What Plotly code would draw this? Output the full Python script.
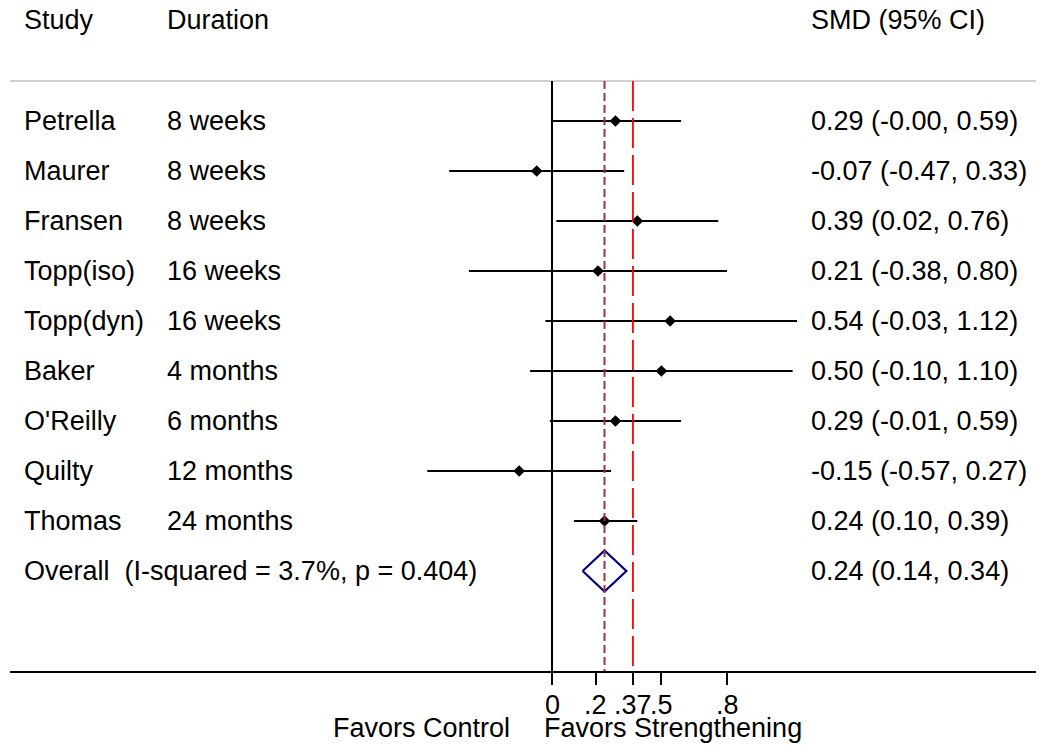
import plotly.graph_objects as go

# ---- data ----
studies = ["Petrella", "Maurer", "Fransen", "Topp(iso)", "Topp(dyn)", "Baker",
           "O'Reilly", "Quilty", "Thomas"]
durations = ["8 weeks", "8 weeks", "8 weeks", "16 weeks", "16 weeks", "4 months",
             "6 months", "12 months", "24 months"]
smd = [0.29, -0.07, 0.39, 0.21, 0.54, 0.50, 0.29, -0.15, 0.24]
ci_low = [-0.00, -0.47, 0.02, -0.38, -0.03, -0.10, -0.01, -0.57, 0.10]
ci_high = [0.59, 0.33, 0.76, 0.80, 1.12, 1.10, 0.59, 0.27, 0.39]
smd_labels = ["0.29 (-0.00, 0.59)", "-0.07 (-0.47, 0.33)", "0.39 (0.02, 0.76)",
              "0.21 (-0.38, 0.80)", "0.54 (-0.03, 1.12)", "0.50 (-0.10, 1.10)",
              "0.29 (-0.01, 0.59)", "-0.15 (-0.57, 0.27)", "0.24 (0.10, 0.39)"]
overall_label = "Overall  (I-squared = 3.7%, p = 0.404)"
overall_est = 0.24
overall_low = 0.14
overall_high = 0.34
overall_text = "0.24 (0.14, 0.34)"
ref_line = 0.37
headers = ["Study", "Duration", "SMD (95% CI)"]
tick_vals = [0, 0.2, 0.37, 0.5, 0.8]
tick_text = ["0", ".2", ".37", ".5", ".8"]
favors_left = "Favors Control"
favors_right = "Favors Strengthening"

# ---- layout helpers ----
FONT = "Liberation Sans, Arial, sans-serif"
FS = 27
X0PX, SCALE = 552.0, 218.75  # page pixel of x=0, pixels per unit (text placement)
OFF = 8  # default body margin of the html page


def px2x(p):
    return (p - X0PX) / SCALE


rows = list(range(len(studies)))
overall_row = len(studies)
header_row = -2.03
axis_row = 11
line_row = -0.8
top_row = (OFF - 121) / 50.0

W, H = 1044 - OFF, 746 - OFF
plot_h = (671 - OFF)  # plot area height in figure pixels (top margin 0)

fig = go.Figure()

# CI lines
cx, cy = [], []
for r, lo, hi in zip(rows, ci_low, ci_high):
    cx += [lo, hi, None]
    cy += [r, r, None]
fig.add_trace(go.Scatter(x=cx, y=cy, mode="lines",
                         line=dict(color="black", width=2.2), hoverinfo="skip"))
# point estimates
fig.add_trace(go.Scatter(x=smd, y=rows, mode="markers",
                         marker=dict(symbol="diamond", size=9, color="black"),
                         hoverinfo="skip"))
# overall diamond
h = 0.41
fig.add_trace(go.Scatter(
    x=[overall_low, overall_est, overall_high, overall_est, overall_low],
    y=[overall_row, overall_row - h, overall_row, overall_row + h, overall_row],
    mode="lines", line=dict(color="#000080", width=2.2), hoverinfo="skip"))

shapes = [
    dict(type="line", xref="paper", x0=0, x1=1, yref="y", y0=line_row, y1=line_row,
         line=dict(color="#c0c0c0", width=1.5)),
    dict(type="line", xref="x", x0=0, x1=0, yref="y", y0=line_row, y1=axis_row,
         line=dict(color="black", width=2)),
    dict(type="line", xref="x", x0=overall_est, x1=overall_est, yref="y",
         y0=line_row, y1=axis_row,
         line=dict(color="#a03040", width=2, dash="8px,4px")),
    dict(type="line", xref="x", x0=ref_line, x1=ref_line, yref="y",
         y0=line_row, y1=axis_row,
         line=dict(color="#ff0000", width=1.8, dash="30px,7px")),
]

ann = []


def txt(x, y, s, anchor="left"):
    ann.append(dict(x=x, y=y, xref="x", yref="y", text=s, showarrow=False,
                    xanchor=anchor, yanchor="middle", borderpad=0,
                    font=dict(family=FONT, size=FS, color="black")))


txt(px2x(23), header_row, headers[0])
txt(px2x(166), header_row, headers[1])
txt(px2x(810), header_row, headers[2])
for r, s, d, lab in zip(rows, studies, durations, smd_labels):
    txt(px2x(23), r, s)
    txt(px2x(166), r, d)
    txt(px2x(810), r, lab)
txt(px2x(23), overall_row, overall_label)
txt(px2x(810), overall_row, overall_text)

# tick labels (drawn as annotations so they sit where the reference has them)
tick_y = -(705 - 671) / plot_h
for v, t in zip(tick_vals, tick_text):
    ann.append(dict(x=v, y=tick_y, xref="x", yref="paper", text=t,
                    showarrow=False, xanchor="center", yanchor="middle",
                    borderpad=0,
                    font=dict(family=FONT, size=FS, color="black")))

fav_y = -(728 - 671) / plot_h
ann.append(dict(x=px2x(511), y=fav_y, xref="x", yref="paper", text=favors_left,
                showarrow=False, xanchor="right", yanchor="middle", borderpad=0,
                font=dict(family=FONT, size=FS, color="black")))
ann.append(dict(x=px2x(543), y=fav_y, xref="x", yref="paper", text=favors_right,
                showarrow=False, xanchor="left", yanchor="middle", borderpad=0,
                font=dict(family=FONT, size=FS, color="black")))

fig.update_layout(
    width=W, height=H,
    margin=dict(l=10 - OFF, r=0, t=0, b=H - plot_h),
    paper_bgcolor="white", plot_bgcolor="white",
    showlegend=False,
    shapes=shapes, annotations=ann,
    xaxis=dict(range=[px2x(10), px2x(1044)], showgrid=False, zeroline=False,
               showline=True, linecolor="black", linewidth=2,
               ticks="outside", ticklen=12, tickwidth=2, tickcolor="black",
               tickvals=tick_vals, showticklabels=False),
    yaxis=dict(range=[axis_row, top_row], showgrid=False, zeroline=False,
               showline=False, showticklabels=False, ticks=""),
)

fig.write_html("out.html")
